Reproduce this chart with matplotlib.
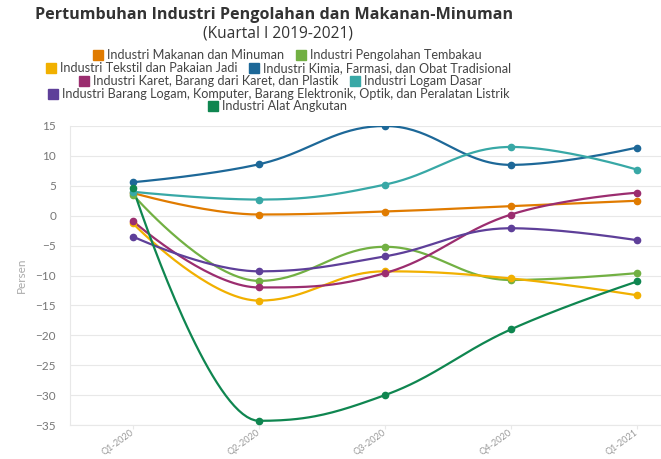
import numpy as np
import matplotlib.pyplot as plt
from matplotlib.lines import Line2D

# ---- data
kuartal = ["Q1-2020", "Q2-2020", "Q3-2020", "Q4-2020", "Q1-2021"]

makanan = [3.8, 0.2, 0.7, 1.6, 2.5]
tembakau = [3.5, -10.9, -5.2, -10.75, -9.6]
tekstil = [-1.3, -14.2, -9.3, -10.5, -13.3]
kimia = [5.6, 8.6, 15.0, 8.5, 11.4]
karet = [-0.9, -12.0, -9.6, 0.2, 3.85]
logam_dasar = [4.0, 2.7, 5.2, 11.5, 7.7]
barang_logam = [-3.5, -9.3, -6.8, -2.1, -4.1]
angkutan = [4.6, -34.3, -30.0, -19.0, -11.0]

series = [
    ("Industri Makanan dan Minuman", makanan, "#e07b00"),
    ("Industri Pengolahan Tembakau", tembakau, "#72b043"),
    ("Industri Tekstil dan Pakaian Jadi", tekstil, "#f1b000"),
    ("Industri Kimia, Farmasi, dan Obat Tradisional", kimia, "#1d6898"),
    ("Industri Karet, Barang dari Karet, dan Plastik", karet, "#9b2d6f"),
    ("Industri Logam Dasar", logam_dasar, "#38a8a6"),
    ("Industri Barang Logam, Komputer, Barang Elektronik, Optik, dan Peralatan Listrik", barang_logam, "#5e3f99"),
    ("Industri Alat Angkutan", angkutan, "#0f8650"),
]


# ---- spline ala highcharts
def spline(y, n=40):
    x = np.arange(len(y), dtype=float)
    y = np.asarray(y, dtype=float)
    sm, den = 1.5, 2.5
    lc = [None] * len(y)
    rc = [None] * len(y)
    for i in range(1, len(y) - 1):
        lx = (sm * x[i] + x[i - 1]) / den
        ly = (sm * y[i] + y[i - 1]) / den
        rx = (sm * x[i] + x[i + 1]) / den
        ry = (sm * y[i] + y[i + 1]) / den
        corr = (ry - ly) * (rx - x[i]) / (rx - lx) + y[i] - ry
        ly += corr
        ry += corr
        if ly > y[i - 1] and ly > y[i]:
            ly = max(y[i - 1], y[i]); ry = 2 * y[i] - ly
        elif ly < y[i - 1] and ly < y[i]:
            ly = min(y[i - 1], y[i]); ry = 2 * y[i] - ly
        if ry > y[i + 1] and ry > y[i]:
            ry = max(y[i + 1], y[i]); ly = 2 * y[i] - ry
        elif ry < y[i + 1] and ry < y[i]:
            ry = min(y[i + 1], y[i]); ly = 2 * y[i] - ry
        lc[i] = (lx, ly)
        rc[i] = (rx, ry)
    xs, ys = [], []
    t = np.linspace(0, 1, n)
    for i in range(len(y) - 1):
        p0 = (x[i], y[i])
        p1 = rc[i] if rc[i] else p0
        p3 = (x[i + 1], y[i + 1])
        p2 = lc[i + 1] if lc[i + 1] else p3
        bx = (1 - t) ** 3 * p0[0] + 3 * (1 - t) ** 2 * t * p1[0] + 3 * (1 - t) * t ** 2 * p2[0] + t ** 3 * p3[0]
        by = (1 - t) ** 3 * p0[1] + 3 * (1 - t) ** 2 * t * p1[1] + 3 * (1 - t) * t ** 2 * p2[1] + t ** 3 * p3[1]
        xs.extend(bx)
        ys.extend(by)
    return np.array(xs), np.array(ys)


plt.rcParams['font.family'] = ['Lato', 'DejaVu Sans']

fig = plt.figure(figsize=(6.61, 4.59), dpi=100)
ax = fig.add_axes([70 / 661, 1 - 425 / 459, 1 - 70 / 661, (425 - 126) / 459])

pos = np.arange(len(kuartal))
for nama, vals, warna in series:
    sx, sy = spline(vals)
    ax.plot(sx, sy, color=warna, lw=1.6, zorder=3)
    ax.plot(pos, vals, "o", color=warna, ms=4.5, zorder=4)

ax.set_xlim(-0.5, 4.19)
ax.set_ylim(-35, 15)
ax.set_yticks(np.arange(-35, 16, 5))
ax.set_xticks(pos)
ax.set_xticklabels(kuartal, rotation=36, ha="right", va="center", rotation_mode="anchor")
ax.grid(axis="y", color="#e8e8e8", lw=0.8)
for s in ["top", "right"]:
    ax.spines[s].set_visible(False)
ax.spines["left"].set_color("#e8e8e8")
ax.spines["bottom"].set_color("#e8e8e8")
ax.tick_params(axis="y", length=0, labelsize=8.5, labelcolor="#777777", pad=10)
ax.tick_params(axis="x", length=3, color="#e8e8e8", labelsize=6.6, labelcolor="#999999", pad=2)
ax.set_ylabel("Persen", color="#aaaaaa", fontsize=8.5, labelpad=6)
ax.set_axisbelow(True)

# ---- judul
fig.text(274 / 661, 1 - 15 / 459, "Pertumbuhan Industri Pengolahan dan Makanan-Minuman",
         ha="center", va="center", fontsize=11.6, fontweight="bold", color="#333333",
         family="Open Sans")
fig.text(278 / 661, 1 - 33 / 459, "(Kuartal I 2019-2021)", ha="center", va="center",
         fontsize=11.2, color="#333333", family="Open Sans")

# ---- legenda per baris
baris = [[0, 1], [2, 3], [4, 5], [6], [7]]
row_y = [55, 68, 81, 94, 106]
row_x = [288, 279, 281, 279, 278]
for idx, yy, xx in zip(baris, row_y, row_x):
    handles = [Line2D([], [], ls="none", marker="s", ms=7, color=series[i][2]) for i in idx]
    labels = [series[i][0] for i in idx]
    lg = fig.legend(handles, labels, loc="center", bbox_to_anchor=(xx / 661, 1 - yy / 459),
                    ncol=len(idx), frameon=False, fontsize=9.1, handlelength=0.6,
                    handletextpad=0.4, columnspacing=1.0, borderpad=0, labelcolor="#444444")

fig.savefig("out.png", dpi=100)
